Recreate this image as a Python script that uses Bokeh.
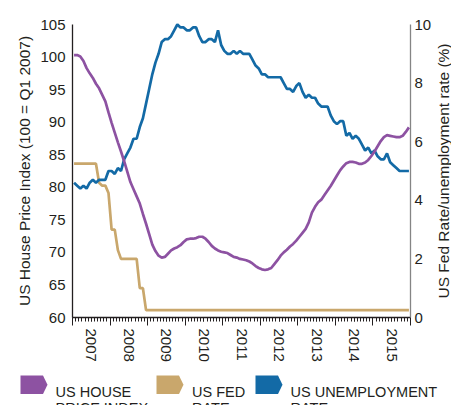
import math
from bokeh.plotting import figure
from bokeh.models import Range1d, LinearAxis, FixedTicker, ColumnDataSource, Label, PolyAnnotation
from bokeh.embed import file_html
from bokeh.resources import INLINE

START_YEAR = 2007
years = [2007, 2008, 2009, 2010, 2011, 2012, 2013, 2014, 2015]

# US house price index (100 = Q1 2007), monthly
house_index = [
    100.3, 100.3, 100.1, 99.4, 98.3, 97.5, 96.8, 95.9, 95.2, 94.2, 93.2, 91.5,
    89.9, 88.4, 86.9, 85.5, 84.0, 82.4, 80.8, 79.7, 78.6, 77.5, 75.9, 74.4,
    72.8, 71.2, 70.2, 69.5, 69.2, 69.3, 69.8, 70.3, 70.6, 70.8, 71.1, 71.6,
    72.0, 72.1, 72.1, 72.2, 72.4, 72.4, 72.1, 71.6, 71.0, 70.6, 70.3, 70.1,
    70.0, 69.9, 69.6, 69.3, 69.2, 69.0, 68.9, 68.8, 68.6, 68.3, 67.9, 67.6,
    67.4, 67.3, 67.4, 67.6, 68.2, 68.8, 69.5, 70.0, 70.4, 70.9, 71.3, 71.8,
    72.4, 73.0, 73.6, 74.6, 76.1, 77.0, 77.7, 78.1, 78.8, 79.5, 80.2, 81.0,
    81.8, 82.6, 83.2, 83.7, 83.9, 83.9, 83.8, 83.6, 83.6, 83.8, 84.2, 84.8,
    85.5, 86.3, 87.1, 87.7, 88.0, 87.9, 87.8, 87.7, 87.7, 87.9, 88.5, 89.2,
]

# US Fed rate (%), monthly
fed_rate = [
    5.25, 5.25, 5.25, 5.25, 5.25, 5.25, 5.25, 5.25, 4.6, 4.5, 4.5, 4.25,
    3.0, 3.0, 2.3, 2.0, 2.0, 2.0, 2.0, 2.0, 2.0, 1.0, 1.0, 0.25,
    0.25, 0.25, 0.25, 0.25, 0.25, 0.25, 0.25, 0.25, 0.25, 0.25, 0.25, 0.25,
    0.25, 0.25, 0.25, 0.25, 0.25, 0.25, 0.25, 0.25, 0.25, 0.25, 0.25, 0.25,
    0.25, 0.25, 0.25, 0.25, 0.25, 0.25, 0.25, 0.25, 0.25, 0.25, 0.25, 0.25,
    0.25, 0.25, 0.25, 0.25, 0.25, 0.25, 0.25, 0.25, 0.25, 0.25, 0.25, 0.25,
    0.25, 0.25, 0.25, 0.25, 0.25, 0.25, 0.25, 0.25, 0.25, 0.25, 0.25, 0.25,
    0.25, 0.25, 0.25, 0.25, 0.25, 0.25, 0.25, 0.25, 0.25, 0.25, 0.25, 0.25,
    0.25, 0.25, 0.25, 0.25, 0.25, 0.25, 0.25, 0.25, 0.25, 0.25, 0.25, 0.25,
]

# US unemployment rate (%), monthly
unemployment = [
    4.6, 4.5, 4.4, 4.5, 4.4, 4.6, 4.7, 4.6, 4.7, 4.7, 4.7, 5.0,
    5.0, 4.9, 5.1, 5.0, 5.4, 5.6, 5.8, 6.1, 6.1, 6.5, 6.8, 7.3,
    7.8, 8.3, 8.7, 9.0, 9.4, 9.5, 9.5, 9.6, 9.8, 10.0, 9.9, 9.9,
    9.8, 9.8, 9.9, 9.9, 9.6, 9.4, 9.4, 9.5, 9.5, 9.4, 9.8, 9.3,
    9.1, 9.0, 9.0, 9.1, 9.0, 9.1, 9.0, 9.0, 9.0, 8.8, 8.6, 8.5,
    8.3, 8.3, 8.2, 8.2, 8.2, 8.2, 8.2, 8.0, 7.8, 7.8, 7.7, 7.9,
    8.0, 7.7, 7.5, 7.6, 7.5, 7.5, 7.3, 7.2, 7.2, 7.2, 6.9, 6.7,
    6.6, 6.7, 6.7, 6.2, 6.3, 6.1, 6.2, 6.1, 5.9, 5.7, 5.8, 5.6,
    5.7, 5.5, 5.4, 5.4, 5.6, 5.3, 5.2, 5.1, 5.0, 5.0, 5.0, 5.0,
]

left_ticks = [60, 65, 70, 75, 80, 85, 90, 95, 100, 105]
right_ticks = [0, 2, 4, 6, 8, 10]
LEFT_LIM = (60, 105)
RIGHT_LIM = (0, 10)

legend_labels = [("US HOUSE", "PRICE INDEX"), ("US FED", "RATE"), ("US UNEMPLOYMENT", "RATE")]

PURPLE = "#8d52a2"
TAN = "#c9a76c"
BLUE = "#136aa6"
TXT = "#231f20"
FONT = "Liberation Sans"

t = [START_YEAR + (i + 0.5) / 12 for i in range(len(house_index))]
src = ColumnDataSource(dict(t=t, hpi=house_index, fed=fed_rate, unemp=unemployment))

# ---- layout (canvas pixels) ----
W, H = 451, 405
PL, PR, PT, PB = 72, 410, 24, 317       # plotting box inside the canvas
x0, x1 = years[0], years[-1] + 1
ppx = (PR - PL) / (x1 - x0)
ppl = (PB - PT) / (LEFT_LIM[1] - LEFT_LIM[0])
ppr = (PB - PT) / (RIGHT_LIM[1] - RIGHT_LIM[0])

p = figure(width=W, height=H,
           x_range=Range1d(x0 - PL / ppx, x1 + (W - PR) / ppx),
           y_range=Range1d(LEFT_LIM[0] - (H - PB) / ppl, LEFT_LIM[1] + PT / ppl),
           output_backend="svg", toolbar_location=None,
           min_border_left=0, min_border_right=0, min_border_top=0, min_border_bottom=0)
p.title.visible = False
p.extra_y_ranges = {"rate": Range1d(RIGHT_LIM[0] - (H - PB) / ppr, RIGHT_LIM[1] + PT / ppr)}
p.xgrid.visible = False
p.ygrid.visible = False
p.outline_line_color = None

p.line("t", "fed", source=src, line_color=TAN, line_width=2.7, y_range_name="rate")
p.line("t", "unemp", source=src, line_color=BLUE, line_width=2.7, y_range_name="rate")
p.line("t", "hpi", source=src, line_color=PURPLE, line_width=2.7)

mid_years = [y + 0.5 for y in years]
months = [x0 + k / 12 for k in range(len(years) * 12 + 1)]
xa = p.xaxis[0]
xa.fixed_location = LEFT_LIM[0]
xa.bounds = (x0, x1)
xa.ticker = FixedTicker(ticks=mid_years, minor_ticks=months)
xa.major_label_overrides = {y + 0.5: str(y) for y in years}
xa.major_label_orientation = "vertical"
xa.major_tick_out = 4
xa.major_tick_in = 0
xa.minor_tick_out = 4
xa.minor_tick_in = 0
xa.major_label_standoff = 7
xa.axis_line_color = TXT
xa.axis_line_width = 1.3
xa.major_tick_line_color = TXT
xa.minor_tick_line_color = TXT
xa.major_label_text_font = FONT
xa.major_label_text_font_size = "15px"
xa.major_label_text_color = TXT

# longer year-boundary ticks (no labels)
year_bounds = years + [x1]
yt = LinearAxis(ticker=FixedTicker(ticks=year_bounds, minor_ticks=[]))
yt.fixed_location = LEFT_LIM[0]
yt.bounds = (x0, x1)
yt.axis_line_color = None
yt.major_tick_out = 8
yt.major_tick_in = 0
yt.major_tick_line_color = TXT
yt.minor_tick_line_color = None
yt.major_label_overrides = {y: "" for y in year_bounds}
yt.major_label_text_alpha = 0
p.add_layout(yt, "below")

ya = p.yaxis[0]
ya.fixed_location = x0
ya.bounds = LEFT_LIM
ya.ticker = FixedTicker(ticks=left_ticks)
ya.major_tick_out = 0
ya.major_tick_in = 0
ya.minor_tick_out = 0
ya.minor_tick_in = 0
ya.major_label_standoff = 7
ya.axis_line_color = TXT
ya.axis_line_width = 1.3
ya.major_label_text_font = FONT
ya.major_label_text_font_size = "15px"
ya.major_label_text_color = TXT
ya.axis_label = "US House Price Index (100 = Q1 2007)"
ya.axis_label_text_font = FONT
ya.axis_label_text_font_size = "15.5px"
ya.axis_label_text_font_style = "normal"
ya.axis_label_text_color = TXT
ya.axis_label_standoff = 4

ra = LinearAxis(y_range_name="rate", ticker=FixedTicker(ticks=right_ticks))
ra.fixed_location = x1
ra.bounds = RIGHT_LIM
ra.major_tick_out = 0
ra.major_tick_in = 0
ra.minor_tick_out = 0
ra.minor_tick_in = 0
ra.major_label_standoff = 4
ra.axis_line_color = "#858585"
ra.axis_line_width = 1.3
ra.major_label_text_font = FONT
ra.major_label_text_font_size = "15px"
ra.major_label_text_color = TXT
p.add_layout(ra, "right")


# canvas pixel coordinates -> screen units (y measured up from the bottom)
def sx(x):
    return x


def sy(y):
    return H - y


p.add_layout(Label(x=sx(443), y=sy(170.5), x_units="screen", y_units="screen",
                   text="US Fed Rate/unemployment rate (%)", angle=math.pi / 2,
                   text_align="center", text_baseline="middle", text_font=FONT,
                   text_font_size="15.5px", text_color=TXT))

# legend strip
lefts = [20, 156, 255]
text_x = [55, 191.5, 290]
colors = [PURPLE, TAN, BLUE]
for lx, tx, c, (l1, l2) in zip(lefts, text_x, colors, legend_labels):
    xs = [sx(v) for v in (lx, lx + 22.5, lx + 27, lx + 22.5, lx)]
    ys = [sy(v) for v in (375, 375, 384.2, 393.4, 393.4)]
    p.add_layout(PolyAnnotation(xs=xs, ys=ys, xs_units="screen", ys_units="screen",
                                fill_color=c, fill_alpha=1.0, line_color=None))
    for txt, base in ((l1, 391), (l2, 407.5)):
        p.add_layout(Label(x=sx(tx), y=sy(base), x_units="screen", y_units="screen",
                           text=txt, text_font=FONT, text_font_size="14.5px",
                           text_color=TXT, text_baseline="alphabetic", text_align="left"))

open("out.html", "w").write(file_html(p, INLINE))
